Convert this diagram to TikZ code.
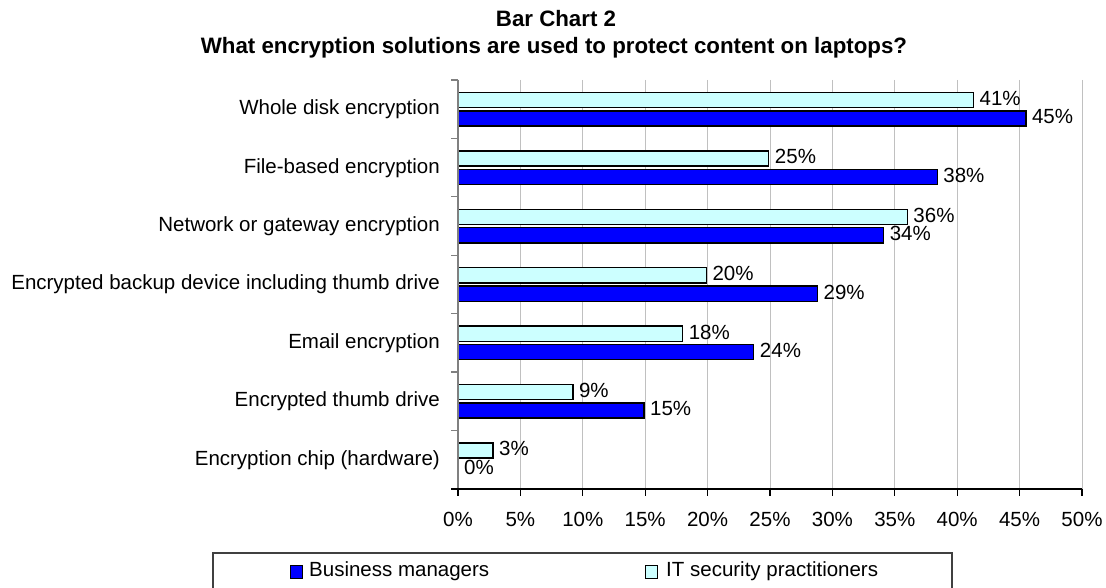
\documentclass[tikz,border=0pt]{standalone}
\usepackage{fontspec}
\setmainfont{Liberation Sans}
\definecolor{bizblue}{RGB}{0,0,255}
\definecolor{itcyan}{RGB}{204,255,255}
\definecolor{gridgray}{RGB}{192,192,192}
\definecolor{axisgray}{RGB}{128,128,128}

\begin{document}
\begin{tikzpicture}[x=1pt,y=-1pt,
  txt/.style={inner sep=0pt,font=\fontsize{20.5}{24}\selectfont},
  titletxt/.style={inner sep=0pt,anchor=base,font=\fontsize{22.3}{26}\selectfont\bfseries},
  catlabel/.style={txt,anchor=base east},
  vallabel/.style={txt,anchor=base west},
  ticklabel/.style={txt,anchor=base},
  itbar/.style={draw=black,line width=1.4pt,fill=itcyan},
  bmbar/.style={draw=black,line width=1.4pt,fill=bizblue},
  gridline/.style={draw=gridgray,line width=1pt},
  legendbox/.style={draw=black!75,line width=1.2pt}]
\useasboundingbox (0,0) rectangle (1106,588);
\clip (0,0) rectangle (1106,588);

% titles
\node[titletxt] (title1) at (556,27) {Bar Chart 2};
\node[titletxt] (title2) at (554,54) {What encryption solutions are used to protect content on laptops?};

% vertical grid lines every 5%
\foreach \k in {1,...,10}
  \draw[gridline] (458+\k*62.4,80) -- (458+\k*62.4,489);

% bars, category labels and value labels
\foreach \lab/\itv/\itt/\bmv/\bmt [count=\i] in {
  Whole disk encryption/41.3/41/45.5/45,
  File-based encryption/24.9/25/38.4/38,
  Network or gateway encryption/36/36/34.1/34,
  Encrypted backup device including thumb drive/19.9/20/28.8/29,
  Email encryption/18/18/23.7/24,
  Encrypted thumb drive/9.2/9/14.9/15,
  Encryption chip (hardware)/2.8/3/0/0}
{
  \pgfmathsetmacro{\cy}{80+(\i-0.5)*58.414}
  \pgfmathsetmacro{\xit}{458+\itv*12.48}
  \pgfmathsetmacro{\xbm}{458+\bmv*12.48}
  \node[catlabel] (cat\i) at (440,\cy+5.5) {\lab};
  \draw[itbar] (458,\cy-16.8) rectangle (\xit,\cy-1.6);
  \ifdim \bmv pt>0pt
    \draw[bmbar] (458,\cy+1.6) rectangle (\xbm,\cy+16.8);
  \fi
  \node[vallabel] (itval\i) at (\xit+6,\cy-9.2+5.5) {\itt\%};
  \node[vallabel] (bmval\i) at (\xbm+6,\cy+9.2+5.5) {\bmt\%};
}

% category axis with tick marks
\draw[axisgray,line width=1.2pt] (458,80) -- (458,489);
\foreach \k in {0,...,6}
  \draw[axisgray,line width=1.2pt] (451,80+\k*58.414) -- (458,80+\k*58.414);

% value axis with tick marks and labels
\draw[black,line width=1.2pt] (451,489) -- (1082,489);
\foreach \k in {0,...,10}{
  \draw[black,line width=1.2pt] (458+\k*62.4,489) -- (458+\k*62.4,496);
  \pgfmathtruncatemacro{\pc}{\k*5}
  \node[ticklabel] (tick\k) at (458+\k*62.4,526) {\pc\%};
}

% legend
\draw[legendbox] (213,553) rectangle (952,610);
\draw[bmbar,line width=1pt] (290,565) rectangle (302,578);
\node[vallabel] (legbm) at (309,576) {Business managers};
\draw[itbar,line width=1pt] (645,565) rectangle (657,578);
\node[vallabel] (legit) at (666,576) {IT security practitioners};
\end{tikzpicture}
\end{document}
